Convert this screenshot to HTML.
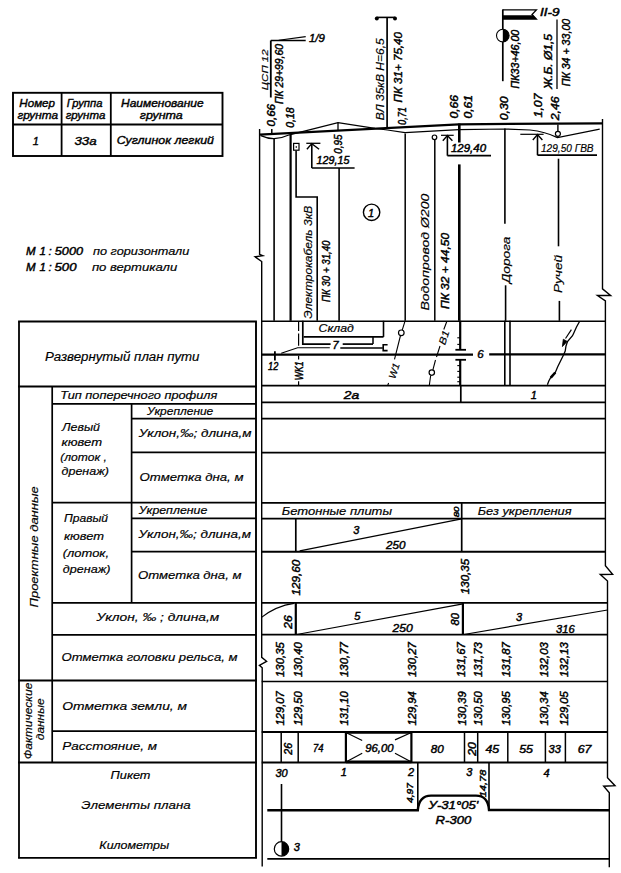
<!DOCTYPE html>
<html><head><meta charset="utf-8"><style>
html,body{margin:0;padding:0;background:#fff;}
svg{display:block;}
.t,.n{font-family:"Liberation Sans",sans-serif;font-style:italic;fill:#000;stroke:#000;stroke-width:0.18px;}
.n{stroke-width:0.45px;}
.b{stroke-width:0.4px;}
</style></head><body>
<svg width="621" height="873" viewBox="0 0 621 873">
<rect width="621" height="873" fill="#fff"/>
<g stroke="#000">
<rect x="13" y="92.8" width="209.5" height="63.2" fill="none" stroke-width="1.9"/>
<line x1="61.6" y1="92.8" x2="61.6" y2="156" stroke-width="1.8"/>
<line x1="110.8" y1="92.8" x2="110.8" y2="156" stroke-width="1.8"/>
<line x1="13" y1="124.5" x2="222.5" y2="124.5" stroke-width="1.8"/>
</g>
<text class="t b" x="19.3" y="107" font-size="11" textLength="35.7" lengthAdjust="spacingAndGlyphs">Номер</text>
<text class="t b" x="17.4" y="118.5" font-size="11" textLength="40.6" lengthAdjust="spacingAndGlyphs">грунта</text>
<text class="t b" x="66.7" y="107" font-size="11" textLength="35.7" lengthAdjust="spacingAndGlyphs">Группа</text>
<text class="t b" x="65.7" y="118.5" font-size="11" textLength="39.6" lengthAdjust="spacingAndGlyphs">грунта</text>
<text class="t b" x="121" y="107" font-size="11" textLength="82.6" lengthAdjust="spacingAndGlyphs">Наименование</text>
<text class="t b" x="139.8" y="118.5" font-size="11" textLength="42.9" lengthAdjust="spacingAndGlyphs">грунта</text>
<text class="t b" x="35.8" y="145" font-size="11" text-anchor="middle">1</text>
<text class="t b" x="74.4" y="145" font-size="11" textLength="22.2" lengthAdjust="spacingAndGlyphs">33а</text>
<text class="t b" x="116.7" y="143.6" font-size="11" textLength="97.3" lengthAdjust="spacingAndGlyphs">Суглинок легкий</text>
<text class="n" x="30.8" y="254.9" font-size="11.5" text-anchor="middle">М</text>
<text class="n" x="42.6" y="254.9" font-size="11.5" text-anchor="middle">1</text>
<text class="n" x="50.0" y="254.9" font-size="11.5" text-anchor="middle">:</text>
<text class="n" x="54.8" y="254.9" font-size="11.5" textLength="28.3" lengthAdjust="spacingAndGlyphs">5000</text>
<text class="t" x="93" y="254.9" font-size="11" textLength="96.3" lengthAdjust="spacingAndGlyphs">по горизонтали</text>
<text class="n" x="30.8" y="271.3" font-size="11.5" text-anchor="middle">М</text>
<text class="n" x="42.6" y="271.3" font-size="11.5" text-anchor="middle">1</text>
<text class="n" x="50.0" y="271.3" font-size="11.5" text-anchor="middle">:</text>
<text class="n" x="54.5" y="271.3" font-size="11.5" textLength="22.0" lengthAdjust="spacingAndGlyphs">500</text>
<text class="t" x="91.9" y="271.3" font-size="11" textLength="85.4" lengthAdjust="spacingAndGlyphs">по вертикали</text>
<g stroke="#000">
<line x1="19" y1="321.5" x2="19" y2="858.3" stroke-width="1.8"/>
<line x1="256" y1="321.5" x2="256" y2="858.3" stroke-width="1.9"/>
<line x1="18.1" y1="321.5" x2="256.9" y2="321.5" stroke-width="1.8"/>
<line x1="18.1" y1="386.5" x2="256.9" y2="386.5" stroke-width="1.8"/>
<line x1="18.1" y1="680.5" x2="256.9" y2="680.5" stroke-width="1.8"/>
<line x1="18.1" y1="762.5" x2="256.9" y2="762.5" stroke-width="1.8"/>
<line x1="18.1" y1="857.8" x2="256.9" y2="857.8" stroke-width="1.8"/>
<line x1="52.2" y1="386.5" x2="52.2" y2="762.5" stroke-width="1.7"/>
<line x1="52.2" y1="403.8" x2="256" y2="403.8" stroke-width="1.7"/>
<line x1="52.2" y1="502.6" x2="256" y2="502.6" stroke-width="1.7"/>
<line x1="52.2" y1="602.8" x2="256" y2="602.8" stroke-width="1.7"/>
<line x1="52.2" y1="634.8" x2="256" y2="634.8" stroke-width="1.7"/>
<line x1="52.2" y1="731.1" x2="256" y2="731.1" stroke-width="1.7"/>
<line x1="131.6" y1="403.8" x2="131.6" y2="602.8" stroke-width="1.7"/>
<line x1="131.6" y1="418.6" x2="256" y2="418.6" stroke-width="1.7"/>
<line x1="131.6" y1="452.4" x2="256" y2="452.4" stroke-width="1.7"/>
<line x1="131.6" y1="518.4" x2="256" y2="518.4" stroke-width="1.7"/>
<line x1="131.6" y1="551.6" x2="256" y2="551.6" stroke-width="1.7"/>
</g>
<text class="t" x="45" y="361" font-size="12" textLength="154.5" lengthAdjust="spacingAndGlyphs">Развернутый план пути</text>
<text class="t" x="60.3" y="399" font-size="11" textLength="157.0" lengthAdjust="spacingAndGlyphs">Тип поперечного профиля</text>
<text class="t" x="146.9" y="415" font-size="10.5" textLength="66.4" lengthAdjust="spacingAndGlyphs">Укрепление</text>
<text class="t" x="138.8" y="437.4" font-size="11.5" textLength="112.7" lengthAdjust="spacingAndGlyphs">Уклон,‰; длина,м</text>
<text class="t" x="139.6" y="481.3" font-size="11.5" textLength="103.9" lengthAdjust="spacingAndGlyphs">Отметка дна, м</text>
<text class="t" x="62" y="430.7" font-size="11" textLength="38.0" lengthAdjust="spacingAndGlyphs">Левый</text>
<text class="t" x="61.6" y="445.8" font-size="11" textLength="40.4" lengthAdjust="spacingAndGlyphs">кювет</text>
<text class="t" x="60.3" y="460.9" font-size="11" textLength="46.5" lengthAdjust="spacingAndGlyphs">(лоток ,</text>
<text class="t" x="61.6" y="475.2" font-size="11" textLength="47.3" lengthAdjust="spacingAndGlyphs">дренаж)</text>
<text class="t" x="138.8" y="514" font-size="10.5" textLength="68.5" lengthAdjust="spacingAndGlyphs">Укрепление</text>
<text class="t" x="138.5" y="538" font-size="11.5" textLength="112.5" lengthAdjust="spacingAndGlyphs">Уклон,‰; длина,м</text>
<text class="t" x="138" y="579.3" font-size="11.5" textLength="103.5" lengthAdjust="spacingAndGlyphs">Отметка дна, м</text>
<text class="t" x="64" y="522" font-size="11" textLength="44.0" lengthAdjust="spacingAndGlyphs">Правый</text>
<text class="t" x="64" y="539.5" font-size="11" textLength="40.0" lengthAdjust="spacingAndGlyphs">кювет</text>
<text class="t" x="62.8" y="557" font-size="11" textLength="46.2" lengthAdjust="spacingAndGlyphs">(лоток,</text>
<text class="t" x="62.8" y="572.5" font-size="11" textLength="47.7" lengthAdjust="spacingAndGlyphs">дренаж)</text>
<text class="t" x="96.6" y="621" font-size="11.5" textLength="122.7" lengthAdjust="spacingAndGlyphs">Уклон, ‰ ; длина,м</text>
<text class="t" x="61.5" y="660.9" font-size="11.8" textLength="176.0" lengthAdjust="spacingAndGlyphs">Отметка головки рельса, м</text>
<text class="t" x="62.3" y="710" font-size="11.5" textLength="124.7" lengthAdjust="spacingAndGlyphs">Отметка земли, м</text>
<text class="t" x="62.3" y="750" font-size="11.5" textLength="94.7" lengthAdjust="spacingAndGlyphs">Расстояние, м</text>
<text class="t" x="110.6" y="779.2" font-size="11.5" textLength="39.9" lengthAdjust="spacingAndGlyphs">Пикет</text>
<text class="t" x="81.3" y="809.3" font-size="11.5" textLength="109.3" lengthAdjust="spacingAndGlyphs">Элементы  плана</text>
<text class="t" x="99.3" y="848.5" font-size="11" textLength="69.9" lengthAdjust="spacingAndGlyphs">Километры</text>
<text class="t" transform="translate(37.5,607.5) rotate(-90)" font-size="11" textLength="121.2" lengthAdjust="spacingAndGlyphs">Проектные  данные</text>
<text class="t" transform="translate(32.1,759.2) rotate(-90)" font-size="10.5" textLength="76.6" lengthAdjust="spacingAndGlyphs">Фактические</text>
<text class="t" transform="translate(44.0,740.2) rotate(-90)" font-size="10.5" textLength="41.8" lengthAdjust="spacingAndGlyphs">данные</text>
<g stroke="#000" fill="none">
<path d="M259.6,129 L259.6,254.3 L262.8,255.7 L255.1,256.8 L261.7,261.5 L261.7,657.3 L266.6,661.3 L259.4,665.3 L262.2,667.7 L262.2,866.5" stroke-width="1.4" fill="none"/>
<path d="M602.5,119 L602.5,288.9 L610.6,295.5 L597.5,295.5 L605.4,300.9 L605.4,565.8 L612.6,574.4 L600.3,574.5 L607.5,581 L607.5,777.8 L615,785.7 L603.7,786.2 L609.3,792.7 L609.3,867.2" stroke-width="1.4" fill="none"/>
<path d="M259.6,134.7 L458.9,124.3 L602.5,123.3" stroke-width="2.2" fill="none"/>
<path d="M260.8,135.6 Q268,138.8 274.2,138.6 Q282,138.3 289.5,134.8 L338,122.6 L375,128.4 L387.4,130 L405,132.6 L459,129.6 L505,129 L530,130 Q545,131.5 557.5,137.6 L599.7,129.2" stroke-width="1.2" fill="none"/>
<line x1="271.8" y1="129" x2="271.8" y2="134.2" stroke-width="1.5"/>
<line x1="338" y1="122.6" x2="338" y2="131" stroke-width="1.3"/>
<line x1="274.1" y1="138.6" x2="274.1" y2="320.8" stroke-width="1.6"/>
<line x1="290.6" y1="134.8" x2="290.6" y2="320.8" stroke-width="2.2"/>
<line x1="339.1" y1="168" x2="339.1" y2="320.8" stroke-width="1.6"/>
<line x1="405.2" y1="133.5" x2="405.2" y2="320.8" stroke-width="1.5"/>
<line x1="434.8" y1="139.6" x2="434.8" y2="320.8" stroke-width="1.5"/>
<line x1="459.3" y1="123.6" x2="459.3" y2="142.5" stroke-width="2.6"/>
<line x1="459.3" y1="164.4" x2="459.3" y2="320.8" stroke-width="2.6"/>
<line x1="504.9" y1="128.5" x2="504.9" y2="223.8" stroke-width="1.6"/>
<line x1="505.6" y1="285.3" x2="505.6" y2="320.8" stroke-width="1.6"/>
<line x1="558.5" y1="158.7" x2="558.5" y2="246.3" stroke-width="1.6"/>
<line x1="559.4" y1="300.9" x2="559.4" y2="320.8" stroke-width="1.6"/>
<path d="M296.1,150.6 L296.1,197 L317.2,197 L317.2,320.8" stroke-width="1.6" fill="none"/>
<rect x="293.6" y="143.4" width="5.4" height="6.8" stroke-width="1.2" fill="#fff"/>
<rect x="295.6" y="146.3" width="1.4" height="1.4" fill="#000" stroke="none"/>
<line x1="306.3" y1="143.3" x2="320.4" y2="143.3" stroke-width="1.3"/>
<line x1="311.8" y1="143.5" x2="311.8" y2="168" stroke-width="1.6"/>
<path d="M306.9,149.3 L311.8,143.6 L319.1,149.3" stroke-width="1.4" fill="none"/>
<line x1="311.8" y1="168" x2="354.6" y2="168" stroke-width="1.7"/>
<line x1="441" y1="135.3" x2="453.7" y2="135.3" stroke-width="1.2"/>
<line x1="447.4" y1="135.4" x2="447.4" y2="155.7" stroke-width="1.6"/>
<path d="M442.8,140.8 L447.4,135.5 L452.4,140.8" stroke-width="1.4" fill="none"/>
<line x1="447.4" y1="155.7" x2="491" y2="155.7" stroke-width="1.7"/>
<circle cx="434.5" cy="137.3" r="2.3" stroke="#000" stroke-width="1.2" fill="#fff"/>
<line x1="520.3" y1="134.3" x2="543.6" y2="134.3" stroke-width="1.2"/>
<line x1="537.5" y1="134.5" x2="537.5" y2="155.2" stroke-width="1.6"/>
<path d="M532.8,140 L537.5,134.6 L542.4,140" stroke-width="1.4" fill="none"/>
<line x1="537.5" y1="155.2" x2="597" y2="155.2" stroke-width="1.7"/>
<line x1="557.9" y1="124.5" x2="557.9" y2="131.3" stroke-width="1.4"/>
<circle cx="557.9" cy="133.8" r="2.5" stroke="#000" stroke-width="1.2" fill="#fff"/>
<line x1="270.8" y1="40.5" x2="270.8" y2="97.5" stroke-width="1.8"/>
<line x1="270.8" y1="40.5" x2="305.7" y2="40.5" stroke-width="1.7"/>
<line x1="278.7" y1="40.2" x2="305.7" y2="36.6" stroke-width="1.1"/>
<line x1="387.1" y1="17.4" x2="387.1" y2="128.8" stroke-width="1.7"/>
<line x1="376.6" y1="17.4" x2="395.2" y2="17.4" stroke-width="1.6"/>
</g>
<g fill="#000" stroke="none">
<circle cx="376.8" cy="18.6" r="2"/><circle cx="395" cy="18.6" r="2"/>
</g>
<g stroke="#000" fill="none">
<line x1="502.8" y1="9.4" x2="502.8" y2="81.2" stroke-width="1.7"/>
<path d="M502.8,9.9 L536.4,9.9 L532,14.5 L536.4,19.1 L502.8,19.1" stroke-width="1.3" fill="none"/>
<path d="M502.8,15.2 L533.2,15.2 L536.4,19.1 L502.8,19.1 Z" fill="#000" stroke="none"/>
<circle cx="502.8" cy="35.6" r="6.3" stroke="#000" stroke-width="1.1" fill="#fff"/>
<path d="M502.8,29.3 A6.3,6.3 0 0 1 502.8,41.9 Z" fill="#000" stroke="none"/>
<line x1="557" y1="19.6" x2="557" y2="89" stroke-width="1.3"/>
</g>
<text class="n" x="309" y="42" font-size="11" textLength="15.8" lengthAdjust="spacingAndGlyphs">1/9</text>
<text class="n" x="540" y="16" font-size="10" textLength="19.6" lengthAdjust="spacingAndGlyphs">II-9</text>
<text class="t" transform="translate(268.4,90.2) rotate(-90)" font-size="9.5" textLength="40.8" lengthAdjust="spacingAndGlyphs">ЦСП 12</text>
<text class="n" transform="translate(282.8,104) rotate(-90)" font-size="10.5" textLength="60.0" lengthAdjust="spacingAndGlyphs">ПК 29+99,60</text>
<text class="n" transform="translate(275.1,126.5) rotate(-90)" font-size="10" textLength="22.5" lengthAdjust="spacingAndGlyphs">0,66</text>
<text class="n" transform="translate(293.6,127.8) rotate(-90)" font-size="10" textLength="20.4" lengthAdjust="spacingAndGlyphs">0,18</text>
<text class="t" transform="translate(384.0,120.3) rotate(-90)" font-size="11" textLength="82.0" lengthAdjust="spacingAndGlyphs">ВЛ 35кВ Н=6,5</text>
<text class="n" transform="translate(401.9,102.5) rotate(-90)" font-size="11" textLength="70.5" lengthAdjust="spacingAndGlyphs">ПК 31+ 75,40</text>
<text class="n" transform="translate(406.0,125) rotate(-90)" font-size="10.5" textLength="18.0" lengthAdjust="spacingAndGlyphs">0,71</text>
<text class="n" transform="translate(341.6,153.8) rotate(-90)" font-size="10.5" textLength="19.3" lengthAdjust="spacingAndGlyphs">0,95</text>
<text class="n" transform="translate(457.9,118.6) rotate(-90)" font-size="10" textLength="23.6" lengthAdjust="spacingAndGlyphs">0,66</text>
<text class="n" transform="translate(471.6,118.6) rotate(-90)" font-size="10" textLength="23.6" lengthAdjust="spacingAndGlyphs">0,61</text>
<text class="n" transform="translate(508.4,120.3) rotate(-90)" font-size="10" textLength="23.9" lengthAdjust="spacingAndGlyphs">0,30</text>
<text class="n" transform="translate(541.8,117.4) rotate(-90)" font-size="10" textLength="23.9" lengthAdjust="spacingAndGlyphs">1,07</text>
<text class="n" transform="translate(558.9,120.3) rotate(-90)" font-size="10" textLength="23.9" lengthAdjust="spacingAndGlyphs">2,46</text>
<text class="n" transform="translate(519.3,88.4) rotate(-90)" font-size="10" textLength="58.7" lengthAdjust="spacingAndGlyphs">ПК33+46,00</text>
<text class="n" transform="translate(551.9,89) rotate(-90)" font-size="10" textLength="55.0" lengthAdjust="spacingAndGlyphs">Ж.Б. Ø1,5</text>
<text class="n" transform="translate(570.0,86.2) rotate(-90)" font-size="11" textLength="67.4" lengthAdjust="spacingAndGlyphs">ПК 34 + 33,00</text>
<text class="t" transform="translate(312.1,318.7) rotate(-90)" font-size="10.5" textLength="113.1" lengthAdjust="spacingAndGlyphs">Электрокабель 3кВ</text>
<text class="n" transform="translate(330.0,302) rotate(-90)" font-size="11" textLength="61.5" lengthAdjust="spacingAndGlyphs">ПК 30 + 31,40</text>
<text class="t" transform="translate(429.3,310.6) rotate(-90)" font-size="11" textLength="117.0" lengthAdjust="spacingAndGlyphs">Водопровод  Ø200</text>
<text class="n" transform="translate(449.0,309) rotate(-90)" font-size="11" textLength="76.1" lengthAdjust="spacingAndGlyphs">ПК 32 + 44,50</text>
<text class="t" transform="translate(509.5,283.3) rotate(-90)" font-size="11" textLength="46.8" lengthAdjust="spacingAndGlyphs">Дорога</text>
<text class="t" transform="translate(562.0,293) rotate(-90)" font-size="11" textLength="38.0" lengthAdjust="spacingAndGlyphs">Ручей</text>
<text class="n" x="316.6" y="163.5" font-size="10.5" textLength="32.8" lengthAdjust="spacingAndGlyphs">129,15</text>
<text class="n" x="451" y="152.4" font-size="10.5" textLength="35.0" lengthAdjust="spacingAndGlyphs">129,40</text>
<text class="t" x="541" y="152" font-size="10.5" textLength="52.6" lengthAdjust="spacingAndGlyphs">129,50 ГВВ</text>
<g stroke="#000" fill="none">
<circle cx="371.6" cy="212.3" r="8.2" stroke="#000" stroke-width="1.4" fill="none"/>
</g>
<text class="n" x="371.0" y="216.5" font-size="11" text-anchor="middle">1</text>
<g stroke="#000" fill="none">
<line x1="261.7" y1="321.2" x2="605.4" y2="321.2" stroke-width="1.6"/>
<line x1="261.7" y1="354.6" x2="473" y2="354.6" stroke-width="2.4"/>
<line x1="489.2" y1="354.4" x2="605.4" y2="354.4" stroke-width="2.4"/>
<line x1="261.7" y1="385.6" x2="605.4" y2="385.6" stroke-width="1.7"/>
<line x1="274.9" y1="351.3" x2="274.9" y2="360.5" stroke-width="1.8"/>
<path d="M281.2,353.2 L297.6,347.8 L329.8,347.8" stroke-width="1.1" fill="none"/>
<line x1="340.3" y1="348" x2="382.8" y2="348" stroke-width="1.4"/>
<path d="M387.6,344.8 L383.2,344.8 L383.2,350.6 L387.6,350.6" stroke-width="1.6" fill="none"/>
<path d="M302.8,320.8 L302.8,344.1 L330.6,344.1" stroke-width="1.7" fill="none"/>
<line x1="342.7" y1="344.1" x2="373" y2="344.1" stroke-width="1.7"/>
<line x1="373" y1="336.9" x2="373" y2="344.1" stroke-width="1.5"/>
<line x1="303.6" y1="336.9" x2="383.5" y2="336.9" stroke-width="1.6"/>
<line x1="383.5" y1="320.8" x2="383.5" y2="336.9" stroke-width="1.6"/>
<path d="M298.6,321.9 L298.6,331 M298.6,333.5 L298.6,345.8 M298.6,355.7 L298.6,359.5 M298.6,381.3 L298.6,385.2" stroke-width="1.2" fill="none"/>
<path d="M405.1,320.8 L402.2,330.1 M400.5,335.5 L394.5,359.4 M388.6,383 L387.7,385.5" stroke-width="1.1" fill="none"/>
<circle cx="401.3" cy="332.8" r="2.8" stroke="#000" stroke-width="1.2" fill="#fff"/>
<path d="M446.7,321.8 L443.8,329.5 M440,346 L436.5,357 M435.5,360 L432.9,369.8 M430.7,375.3 L429.3,385.5" stroke-width="1.1" fill="none"/>
<circle cx="431.8" cy="372.6" r="2.7" stroke="#000" stroke-width="1.2" fill="#fff"/>
<line x1="460.2" y1="320.8" x2="460.2" y2="349.8" stroke-width="2.2"/>
<line x1="455.4" y1="349.8" x2="466" y2="349.8" stroke-width="1.8"/>
<line x1="455.4" y1="359.8" x2="466" y2="359.8" stroke-width="1.8"/>
<line x1="460.2" y1="359.8" x2="460.2" y2="385.6" stroke-width="2.2"/>
<line x1="457.3" y1="337.8" x2="460.2" y2="337.8" stroke-width="1.1"/>
<line x1="457.3" y1="344.4" x2="460.2" y2="344.4" stroke-width="1.1"/>
<line x1="457.3" y1="365.6" x2="460.2" y2="365.6" stroke-width="1.1"/>
<line x1="457.3" y1="371.4" x2="460.2" y2="371.4" stroke-width="1.1"/>
<line x1="457.3" y1="377.2" x2="460.2" y2="377.2" stroke-width="1.1"/>
<line x1="457.3" y1="381.7" x2="460.2" y2="381.7" stroke-width="1.1"/>
<line x1="504.8" y1="320.8" x2="504.8" y2="385.6" stroke-width="1.6"/>
<line x1="510" y1="320.8" x2="510" y2="385.6" stroke-width="1.6"/>
<path d="M579.4,321.7 L576.5,327 L573.8,332.9 L572.5,335.7 L567.5,341.5 L566,346 L565.2,351 L563.5,355.1 L557.7,366.7 L555.3,372.5 L550.5,378 L548.8,381 L547.4,384.8" stroke-width="1.3" fill="none"/>
<path d="M555.3,372.5 L550.8,377.6" stroke-width="2.6" fill="none"/>
<path d="M571.4,329.6 L565.5,338.5" stroke-width="1.2" fill="none"/>
<path d="M562.4,346.6 L563.3,339.2 L567.2,341.4 Z" fill="#000" stroke="#000" stroke-width="0.8"/>
</g>
<text class="t" x="318.5" y="331.5" font-size="11" textLength="35.3" lengthAdjust="spacingAndGlyphs">Склад</text>
<text class="n" x="335.6" y="349.2" font-size="11" text-anchor="middle">7</text>
<text class="n" x="480.5" y="358" font-size="11.5" text-anchor="middle">6</text>
<text class="n" x="268.1" y="370.2" font-size="10" textLength="10.2" lengthAdjust="spacingAndGlyphs">12</text>
<text class="n" transform="translate(303.0,380.3) rotate(-90)" font-size="10" textLength="18.8" lengthAdjust="spacingAndGlyphs">WK1</text>
<text class="t" transform="translate(395,379.5) rotate(-72)" font-size="10" textLength="16" lengthAdjust="spacingAndGlyphs">W1</text>
<text class="t" transform="translate(445,345.5) rotate(-72)" font-size="10" textLength="14.5" lengthAdjust="spacingAndGlyphs">B1</text>
<g stroke="#000" fill="none">
<line x1="261.7" y1="402.4" x2="605.4" y2="402.4" stroke-width="1.7"/>
<line x1="261.7" y1="418.6" x2="605.4" y2="418.6" stroke-width="1.7"/>
<line x1="261.7" y1="452.6" x2="605.4" y2="452.6" stroke-width="1.7"/>
<line x1="261.7" y1="502.9" x2="605.4" y2="502.9" stroke-width="1.7"/>
<line x1="261.7" y1="518.6" x2="605.4" y2="518.6" stroke-width="1.7"/>
<line x1="261.7" y1="602.9" x2="607.5" y2="602.9" stroke-width="1.7"/>
<line x1="261.7" y1="634.7" x2="607.5" y2="634.7" stroke-width="1.7"/>
<line x1="261.7" y1="681.5" x2="607.5" y2="681.5" stroke-width="1.7"/>
<line x1="261.7" y1="551.8" x2="605.4" y2="551.8" stroke-width="2.0"/>
<line x1="261.7" y1="732.0" x2="607.5" y2="732.0" stroke-width="2.0"/>
<line x1="261.7" y1="762.4" x2="607.5" y2="762.4" stroke-width="2.0"/>
<line x1="267.3" y1="858.8" x2="609.3" y2="858.8" stroke-width="1.7"/>
<line x1="460.8" y1="385.6" x2="460.8" y2="402.4" stroke-width="1.7"/>
<line x1="295.8" y1="518.6" x2="295.8" y2="551.8" stroke-width="1.7"/>
<line x1="461.7" y1="502.9" x2="461.7" y2="551.8" stroke-width="1.7"/>
<line x1="299.7" y1="550.8" x2="461.7" y2="518.8" stroke-width="1.2"/>
<line x1="295.8" y1="602.9" x2="295.8" y2="634.7" stroke-width="2.2"/>
<line x1="462.9" y1="602.9" x2="462.9" y2="634.7" stroke-width="2.2"/>
<path d="M261.5,617.4 Q276,606 294,603.4" stroke-width="1.2" fill="none"/>
<line x1="296.7" y1="634.5" x2="463" y2="603.8" stroke-width="1.2"/>
<line x1="463.8" y1="634.5" x2="607.5" y2="610" stroke-width="1.2"/>
<line x1="281.2" y1="732" x2="281.2" y2="762.4" stroke-width="1.5"/>
<line x1="298.2" y1="732" x2="298.2" y2="762.4" stroke-width="1.5"/>
<line x1="464.5" y1="732" x2="464.5" y2="762.4" stroke-width="1.5"/>
<line x1="477.7" y1="732" x2="477.7" y2="762.4" stroke-width="1.5"/>
<line x1="507.8" y1="732" x2="507.8" y2="762.4" stroke-width="1.5"/>
<line x1="545.4" y1="732" x2="545.4" y2="762.4" stroke-width="1.5"/>
<line x1="565.4" y1="732" x2="565.4" y2="762.4" stroke-width="1.5"/>
<line x1="345.9" y1="732" x2="345.9" y2="762.4" stroke-width="2.2"/>
<line x1="411.4" y1="732" x2="411.4" y2="762.4" stroke-width="2.2"/>
<line x1="345.9" y1="732.3" x2="411.4" y2="732.3" stroke-width="2.8"/>
<line x1="345.9" y1="761.9" x2="411.4" y2="761.9" stroke-width="2.8"/>
<line x1="345.9" y1="732.5" x2="362.2" y2="740.5" stroke-width="1.2"/>
<line x1="345.9" y1="762" x2="362.2" y2="753.3" stroke-width="1.2"/>
<line x1="411.4" y1="732.5" x2="395" y2="739.9" stroke-width="1.2"/>
<line x1="411.4" y1="762" x2="395" y2="753.3" stroke-width="1.2"/>
<line x1="417.8" y1="762.4" x2="417.8" y2="809.8" stroke-width="1.6"/>
<line x1="489" y1="762.4" x2="489" y2="809.8" stroke-width="1.6"/>
<path d="M267.3,810.2 L417.8,810.2 Q419,795.6 431,795.6 L476,795.6 Q488,795.6 489,810 L609.3,810.2" stroke-width="2.4" fill="none"/>
<line x1="281.5" y1="784" x2="281.5" y2="841.5" stroke-width="1.6"/>
</g>
<circle cx="281.5" cy="848.9" r="7.2" stroke="#000" stroke-width="1.2" fill="#fff"/>
<path d="M281.5,841.6999999999999 A7.2,7.2 0 0 1 281.5,856.1 Z" fill="#000" stroke="none"/>
<text class="n" x="343.8" y="399" font-size="11" textLength="15.5" lengthAdjust="spacingAndGlyphs">2а</text>
<text class="n" x="533.8" y="398.5" font-size="11" text-anchor="middle">1</text>
<text class="t" x="281.8" y="515" font-size="10.5" textLength="110.2" lengthAdjust="spacingAndGlyphs">Бетонные  плиты</text>
<text class="t" x="477.7" y="515" font-size="10.5" textLength="93.8" lengthAdjust="spacingAndGlyphs">Без  укрепления</text>
<text class="n" x="356.3" y="534.4" font-size="11" text-anchor="middle">3</text>
<text class="n" x="386" y="548.7" font-size="11" textLength="19.4" lengthAdjust="spacingAndGlyphs">250</text>
<text class="n" transform="translate(459.4,517.3) rotate(-90)" font-size="7" textLength="10.8" lengthAdjust="spacingAndGlyphs">80</text>
<text class="n" transform="translate(300.3,595.4) rotate(-90)" font-size="11" textLength="35.7" lengthAdjust="spacingAndGlyphs">129,60</text>
<text class="n" transform="translate(468.6,594.2) rotate(-90)" font-size="11" textLength="35.4" lengthAdjust="spacingAndGlyphs">130,35</text>
<text class="n" transform="translate(292.1,628.7) rotate(-90)" font-size="10" textLength="13.4" lengthAdjust="spacingAndGlyphs">26</text>
<text class="n" transform="translate(458.9,625.4) rotate(-90)" font-size="10" textLength="12.4" lengthAdjust="spacingAndGlyphs">80</text>
<text class="n" x="357.4" y="619.8" font-size="11" text-anchor="middle">5</text>
<text class="n" x="392.6" y="632.3" font-size="11" textLength="20.3" lengthAdjust="spacingAndGlyphs">250</text>
<text class="n" x="519.1" y="620.8" font-size="11" text-anchor="middle">3</text>
<text class="n" x="556" y="632.5" font-size="11" textLength="18.6" lengthAdjust="spacingAndGlyphs">316</text>
<text class="n" transform="translate(284.3,677) rotate(-90)" font-size="11" textLength="34.8" lengthAdjust="spacingAndGlyphs">130,35</text>
<text class="n" transform="translate(302.2,677) rotate(-90)" font-size="11" textLength="34.8" lengthAdjust="spacingAndGlyphs">130,40</text>
<text class="n" transform="translate(348.3,677) rotate(-90)" font-size="11" textLength="34.8" lengthAdjust="spacingAndGlyphs">130,77</text>
<text class="n" transform="translate(415.5,677) rotate(-90)" font-size="11" textLength="34.8" lengthAdjust="spacingAndGlyphs">130,27</text>
<text class="n" transform="translate(464.7,677) rotate(-90)" font-size="11" textLength="34.8" lengthAdjust="spacingAndGlyphs">131,67</text>
<text class="n" transform="translate(481.6,677) rotate(-90)" font-size="11" textLength="34.8" lengthAdjust="spacingAndGlyphs">131,73</text>
<text class="n" transform="translate(510.1,677) rotate(-90)" font-size="11" textLength="34.8" lengthAdjust="spacingAndGlyphs">131,87</text>
<text class="n" transform="translate(547.8,677) rotate(-90)" font-size="11" textLength="34.8" lengthAdjust="spacingAndGlyphs">132,03</text>
<text class="n" transform="translate(567.8,677) rotate(-90)" font-size="11" textLength="34.8" lengthAdjust="spacingAndGlyphs">132,13</text>
<text class="n" transform="translate(284.3,725.4) rotate(-90)" font-size="11" textLength="34.2" lengthAdjust="spacingAndGlyphs">129,07</text>
<text class="n" transform="translate(302.2,725.4) rotate(-90)" font-size="11" textLength="34.2" lengthAdjust="spacingAndGlyphs">129,50</text>
<text class="n" transform="translate(348.4,725.4) rotate(-90)" font-size="11" textLength="34.2" lengthAdjust="spacingAndGlyphs">131,10</text>
<text class="n" transform="translate(415.5,725.4) rotate(-90)" font-size="11" textLength="34.2" lengthAdjust="spacingAndGlyphs">129,94</text>
<text class="n" transform="translate(465.5,725.4) rotate(-90)" font-size="11" textLength="34.2" lengthAdjust="spacingAndGlyphs">130,39</text>
<text class="n" transform="translate(481.6,725.4) rotate(-90)" font-size="11" textLength="34.2" lengthAdjust="spacingAndGlyphs">130,50</text>
<text class="n" transform="translate(510.1,725.4) rotate(-90)" font-size="11" textLength="34.2" lengthAdjust="spacingAndGlyphs">130,95</text>
<text class="n" transform="translate(547.8,725.4) rotate(-90)" font-size="11" textLength="34.2" lengthAdjust="spacingAndGlyphs">130,34</text>
<text class="n" transform="translate(567.8,725.4) rotate(-90)" font-size="11" textLength="34.2" lengthAdjust="spacingAndGlyphs">129,05</text>
<text class="n" transform="translate(292.1,754.8) rotate(-90)" font-size="10" textLength="11.9" lengthAdjust="spacingAndGlyphs">26</text>
<text class="n" transform="translate(475.8,755.8) rotate(-90)" font-size="10" textLength="13.8" lengthAdjust="spacingAndGlyphs">20</text>
<text class="n" x="313" y="752.4" font-size="11" textLength="10.5" lengthAdjust="spacingAndGlyphs">74</text>
<text class="n" x="365.2" y="751.8" font-size="11" textLength="28.3" lengthAdjust="spacingAndGlyphs">96,00</text>
<text class="n" x="430.8" y="752.5" font-size="11" textLength="13.0" lengthAdjust="spacingAndGlyphs">80</text>
<text class="n" x="485.4" y="752.5" font-size="11" textLength="13.8" lengthAdjust="spacingAndGlyphs">45</text>
<text class="n" x="519.2" y="752.5" font-size="11" textLength="13.8" lengthAdjust="spacingAndGlyphs">55</text>
<text class="n" x="548.5" y="752.5" font-size="11" textLength="12.3" lengthAdjust="spacingAndGlyphs">33</text>
<text class="n" x="577.7" y="752.5" font-size="11" textLength="13.8" lengthAdjust="spacingAndGlyphs">67</text>
<text class="n" x="275.4" y="776.7" font-size="11" textLength="12.2" lengthAdjust="spacingAndGlyphs">30</text>
<text class="n" x="343.9" y="776.4" font-size="11" text-anchor="middle">1</text>
<text class="n" x="411.0" y="776.4" font-size="11" text-anchor="middle">2</text>
<text class="n" x="469.4" y="775.8" font-size="11" text-anchor="middle">3</text>
<text class="n" x="546.6" y="777" font-size="11" text-anchor="middle">4</text>
<text class="n" transform="translate(412.6,803) rotate(-90)" font-size="9" textLength="20.0" lengthAdjust="spacingAndGlyphs">4,97</text>
<text class="n" transform="translate(486.4,797.3) rotate(-90)" font-size="9.5" textLength="27.7" lengthAdjust="spacingAndGlyphs">14,78</text>
<text class="n" x="428.5" y="809" font-size="11" textLength="49.8" lengthAdjust="spacingAndGlyphs">У-31°05'</text>
<text class="n" x="435.6" y="823.5" font-size="11" textLength="35.6" lengthAdjust="spacingAndGlyphs">R-300</text>
<text class="n" x="296.8" y="851" font-size="11" text-anchor="middle">3</text>
</svg>
</body></html>
